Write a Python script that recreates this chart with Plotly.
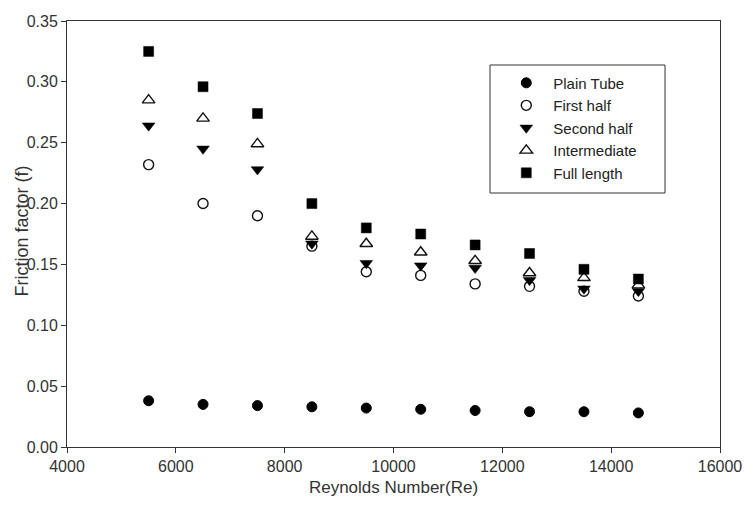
import plotly.graph_objects as go

re_vals = [5500, 6500, 7500, 8500, 9500, 10500, 11500, 12500, 13500, 14500]
plain_tube = [0.038, 0.035, 0.034, 0.033, 0.032, 0.031, 0.030, 0.029, 0.029, 0.028]
first_half = [0.232, 0.200, 0.190, 0.165, 0.144, 0.141, 0.134, 0.132, 0.128, 0.124]
second_half = [0.264, 0.245, 0.228, 0.167, 0.151, 0.149, 0.147, 0.137, 0.130, 0.128]
intermediate = [0.285, 0.270, 0.249, 0.173, 0.167, 0.160, 0.153, 0.143, 0.139, 0.133]
full_length = [0.325, 0.296, 0.274, 0.200, 0.180, 0.175, 0.166, 0.159, 0.146, 0.138]

x_ticks = [4000, 6000, 8000, 10000, 12000, 14000, 16000]
y_ticks = [0.00, 0.05, 0.10, 0.15, 0.20, 0.25, 0.30, 0.35]

series = [
    ("Plain Tube", plain_tube, dict(symbol="circle", size=10, color="black", line=dict(color="black", width=1))),
    ("First half", first_half, dict(symbol="circle-open", size=10, color="#111", line=dict(color="#111", width=1.4))),
    ("Second half", second_half, dict(symbol="triangle-down", size=11, color="black", line=dict(color="black", width=0.5))),
    ("Intermediate", intermediate, dict(symbol="triangle-up-open", size=11, color="#111", line=dict(color="#111", width=1.4))),
    ("Full length", full_length, dict(symbol="square", size=10, color="black", line=dict(color="black", width=0.5))),
]

fig = go.Figure()
for name, vals, marker in series:
    fig.add_trace(go.Scatter(x=re_vals, y=vals, mode="markers", name=name, marker=marker))

font_family = "Liberation Sans, Arial, sans-serif"
fig.update_layout(
    width=745, height=518,
    margin=dict(l=67, r=25, t=21, b=71, autoexpand=False),
    paper_bgcolor="white", plot_bgcolor="white",
    font=dict(family=font_family, size=16, color="#333"),
    showlegend=True,
    legend=dict(
        x=0.662, y=0.893, xanchor="left", yanchor="top",
        borderwidth=0, bgcolor="rgba(0,0,0,0)",
        font=dict(family=font_family, size=15, color="#222"),
        itemwidth=44,
    ),
    xaxis=dict(
        range=[4000, 16000], tickvals=x_ticks, ticktext=[str(v) for v in x_ticks],
        ticks="outside", ticklen=5, tickcolor="#333", showgrid=False, zeroline=False,
        showline=True, linecolor="#333", linewidth=1, mirror=True, automargin=False,
        title=dict(text="Reynolds Number(Re)", font=dict(size=17, color="#333"), standoff=6),
        tickfont=dict(size=16, color="#333"),
    ),
    yaxis=dict(
        range=[0, 0.35], tickvals=y_ticks,
        tickformat=".2f", automargin=False,
        ticks="outside", ticklen=5, tickcolor="#333", showgrid=False, zeroline=False,
        showline=True, linecolor="#333", linewidth=1, mirror=True,
        tickfont=dict(size=16, color="#333"),
    ),
    shapes=[dict(
        type="rect", xref="paper", yref="paper",
        x0=(490 - 67) / 653, x1=(665 - 67) / 653,
        y0=(447 - 193) / 426, y1=(447 - 65) / 426,
        line=dict(color="#333", width=1), fillcolor="rgba(0,0,0,0)", layer="below",
    )],
)

fig.add_annotation(
    text="Friction factor (f)", xref="paper", yref="paper",
    x=-0.069, y=0.508, xanchor="center", yanchor="middle",
    textangle=-90, showarrow=False,
    font=dict(family=font_family, size=18, color="#333"),
)

fig.write_html("out.html")
